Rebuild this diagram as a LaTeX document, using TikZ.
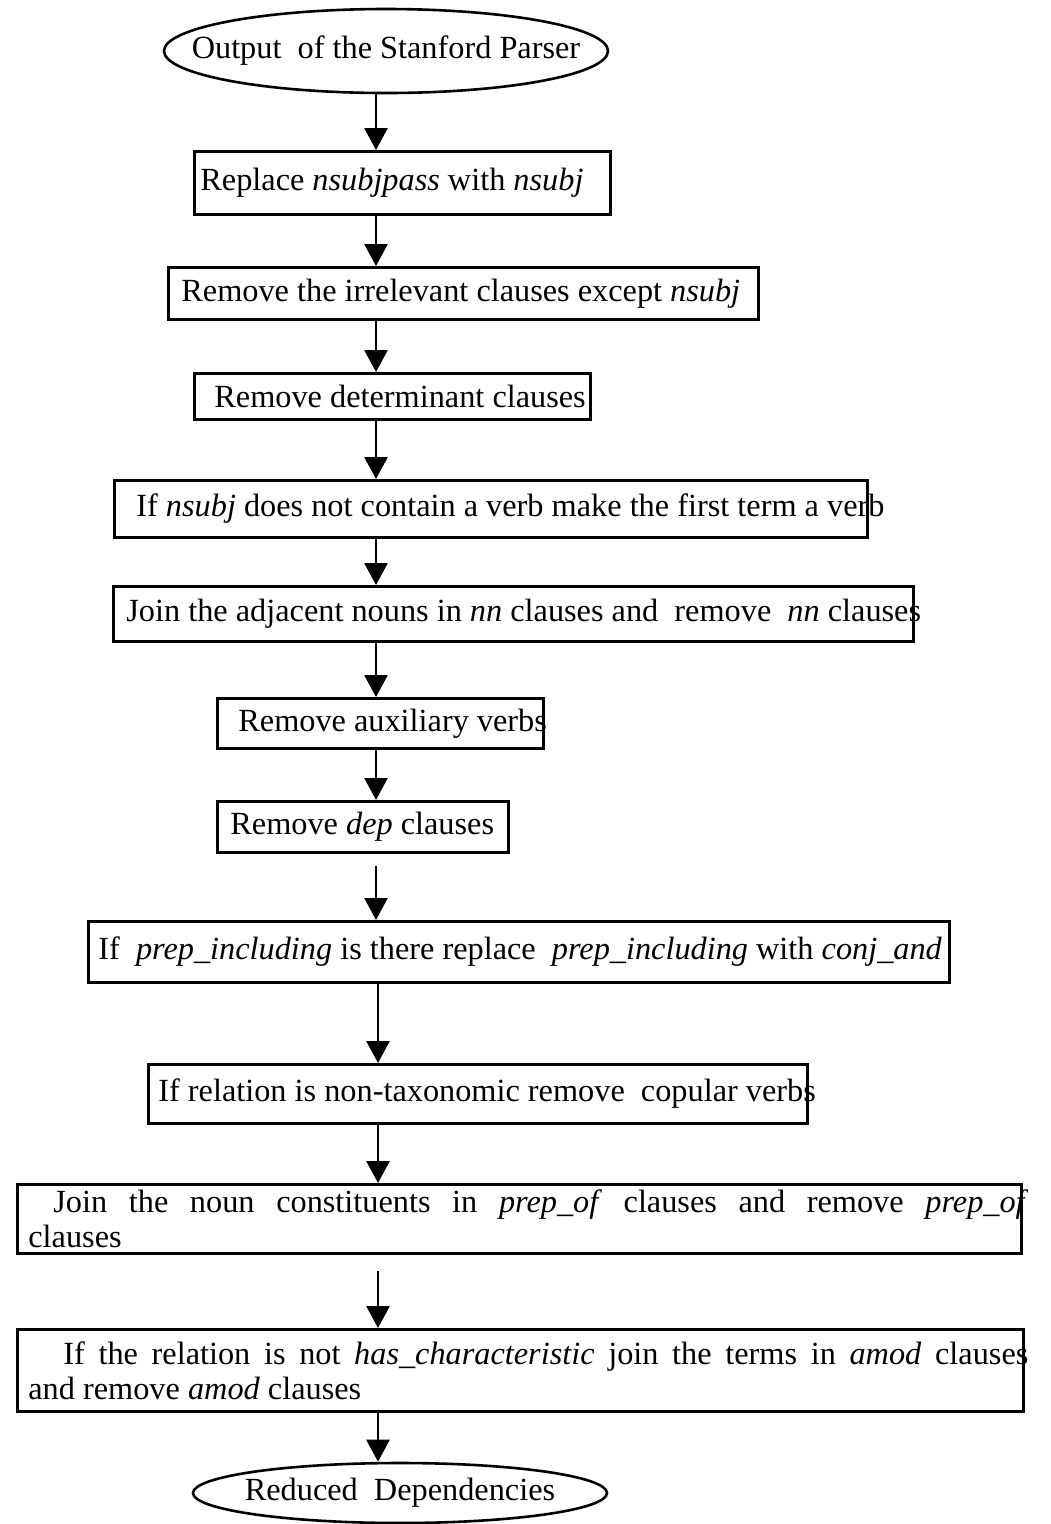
\documentclass[tikz,border=0pt]{standalone}
\usepackage{fontspec}
\setmainfont{Liberation Serif}
\usetikzlibrary{arrows.meta,shapes.geometric}
\newcommand\mkstep[7]{%
  \node[box, minimum width={#4pt-#2pt}, minimum height={#5pt-#3pt}, anchor=north west] (#1) at (#2,#3)
    {\makebox[\dimexpr #4pt-#2pt\relax][l]{\hspace*{#6pt}#7}};%
}
\begin{document}
\begin{tikzpicture}[x=1pt,y=-1pt,
  box/.style={draw, line width=2.8pt, inner sep=0pt, font=\fontsize{32.3}{36}\selectfont},
  term/.style={draw, ellipse, line width=2.6pt, inner sep=0pt, font=\fontsize{32.3}{36}\selectfont},
  arr/.style={line width=2.8pt, -{Triangle[length=22pt,width=23pt]}}]
\useasboundingbox (0,0) rectangle (1050,1524);
\node[term, minimum width=444pt, minimum height=84pt] (start) at (386,51) {\makebox[0pt]{Output~ of the Stanford Parser}};
\mkstep{s1}{193}{150}{609}{213}{6}{Replace \textit{nsubjpass} with \textit{nsubj}}
\mkstep{s2}{167}{266}{757}{318}{13}{Remove the irrelevant clauses except \textit{nsubj}}
\mkstep{s3}{193}{372}{589}{418}{20}{Remove determinant clauses}
\mkstep{s4}{113}{479}{866}{536}{22}{If \textit{nsubj} does not contain a verb make the first term a verb}
\mkstep{s5}{112}{585}{912}{640}{13}{Join the adjacent nouns in \textit{nn} clauses and~ remove~ \textit{nn} clauses}
\mkstep{s6}{216}{697}{542}{747}{21}{Remove auxiliary verbs}
\mkstep{s7}{216}{800}{507}{851}{13}{Remove \textit{dep} clauses}
\mkstep{s8}{87}{920}{948}{981}{10}{If~ \textit{prep\_including} is there replace~ \textit{prep\_including} with \textit{conj\_and}}
\mkstep{s9}{147}{1063}{806}{1122}{10}{If relation is non-taxonomic remove~ copular verbs}
\node[box, minimum width=1004pt, minimum height=69pt, anchor=north west] (s10) at (16,1183)
  {\parbox{1004pt}{\baselineskip=35pt\hspace*{36pt}\makebox[975pt][s]{Join the noun constituents in \textit{prep\_of} clauses and remove \textit{prep\_of}}\\\hspace*{11pt}clauses}};
\node[box, minimum width=1006pt, minimum height=82pt, anchor=north west] (s11) at (16,1328)
  {\parbox{1006pt}{\baselineskip=35pt\hspace*{46pt}\makebox[965pt][s]{If the relation is not \textit{has\_characteristic} join the terms in \textit{amod} clauses}\\\hspace*{11pt}and remove \textit{amod} clauses}};
\node[term, minimum width=414pt, minimum height=60pt] (stop) at (400,1493) {\makebox[0pt]{Reduced~ Dependencies}};
\coordinate (ax) at (376,0);
\coordinate (bx) at (378,0);
\draw[arr] (start.south -| ax) -- (s1.north -| ax);
\draw[arr] (s1.south -| ax) -- (s2.north -| ax);
\draw[arr] (s2.south -| ax) -- (s3.north -| ax);
\draw[arr] (s3.south -| ax) -- (s4.north -| ax);
\draw[arr] (s4.south -| ax) -- (s5.north -| ax);
\draw[arr] (s5.south -| ax) -- (s6.north -| ax);
\draw[arr] (s6.south -| ax) -- (s7.north -| ax);
\draw[arr, shorten <=12pt] (s7.south -| ax) -- (s8.north -| ax);
\draw[arr] (s8.south -| bx) -- (s9.north -| bx);
\draw[arr] (s9.south -| bx) -- (s10.north -| bx);
\draw[arr, shorten <=16pt] (s10.south -| bx) -- (s11.north -| bx);
\draw[arr] (s11.south -| bx) -- (stop.north -| bx);
\end{tikzpicture}
\end{document}
